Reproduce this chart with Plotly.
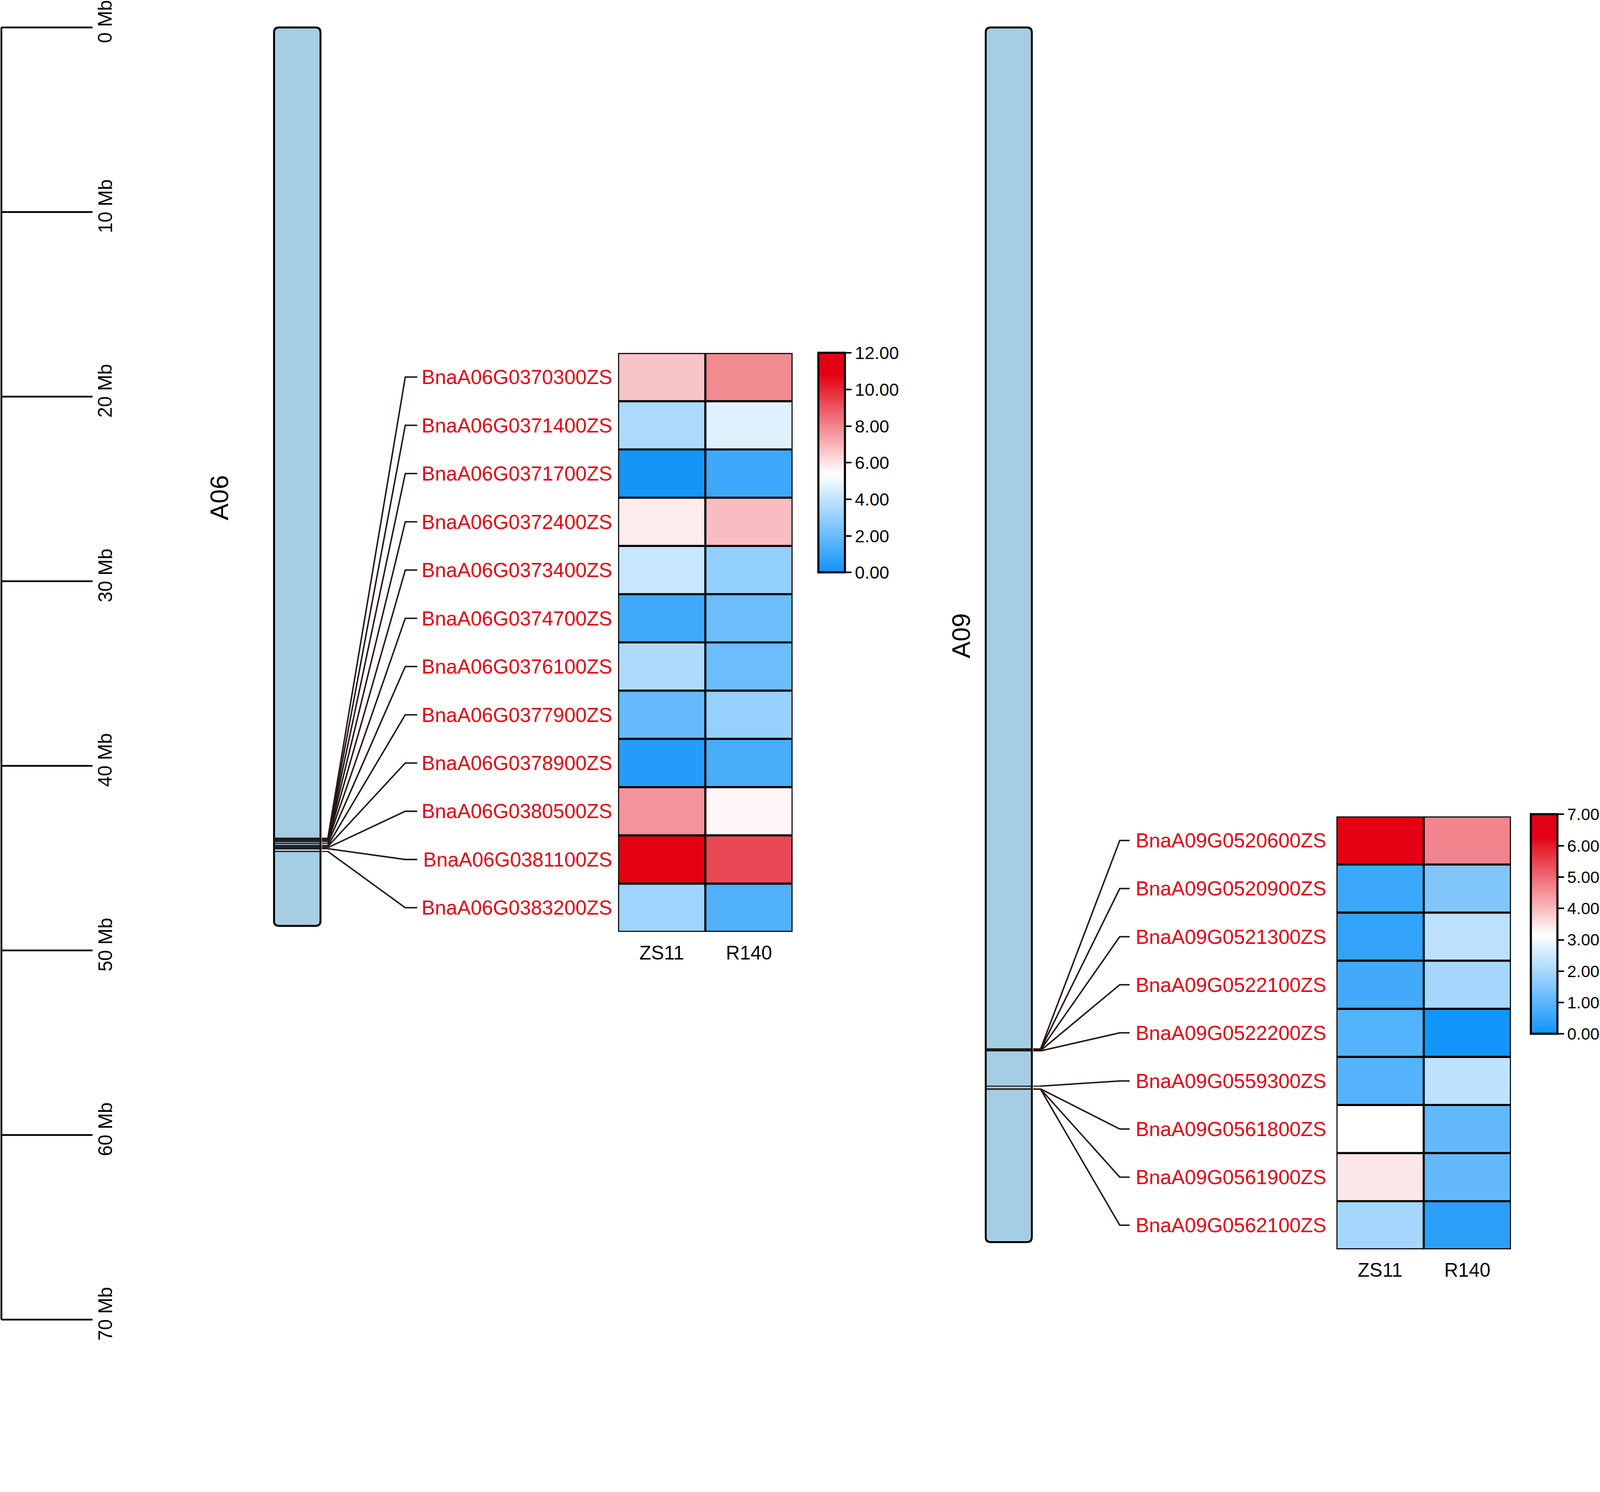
import plotly.graph_objects as go

# ---------------- data ----------------
scale_ticks_mb = [0, 10, 20, 30, 40, 50, 60, 70]
scale_tick_labels = [f"{v} Mb" for v in scale_ticks_mb]

chrom_names = ["A06", "A09"]
chrom_len_mb = [48.67, 65.80]

samples = ["ZS11", "R140"]

a06_genes = ["BnaA06G0370300ZS", "BnaA06G0371400ZS", "BnaA06G0371700ZS", "BnaA06G0372400ZS",
             "BnaA06G0373400ZS", "BnaA06G0374700ZS", "BnaA06G0376100ZS", "BnaA06G0377900ZS",
             "BnaA06G0378900ZS", "BnaA06G0380500ZS", "BnaA06G0381100ZS", "BnaA06G0383200ZS"]
a06_pos_mb = [43.92, 43.95, 43.98, 44.01, 44.04, 44.10, 44.20, 44.31, 44.37, 44.43, 44.49, 44.64]
a06_zs11 = [6.65, 3.52, 0.10, 5.80, 4.16, 1.08, 3.55, 1.90, 0.43, 7.69, 11.90, 3.25]
a06_r140 = [7.88, 4.70, 1.02, 6.82, 2.96, 2.08, 2.08, 3.03, 1.26, 5.61, 9.28, 1.45]
a06_cbar_ticks = [0, 2, 4, 6, 8, 10, 12]

a09_genes = ["BnaA09G0520600ZS", "BnaA09G0520900ZS", "BnaA09G0521300ZS", "BnaA09G0522100ZS",
             "BnaA09G0522200ZS", "BnaA09G0559300ZS", "BnaA09G0561800ZS", "BnaA09G0561900ZS",
             "BnaA09G0562100ZS"]
a09_pos_mb = [55.33, 55.36, 55.39, 55.42, 55.44, 57.35, 57.50, 57.51, 57.52]
a09_zs11 = [6.90, 0.58, 0.45, 0.66, 0.87, 0.90, 3.15, 3.46, 1.96]
a09_r140 = [4.67, 1.48, 2.27, 1.98, 0.03, 2.29, 1.10, 1.10, 0.34]
a09_cbar_ticks = [0, 1, 2, 3, 4, 5, 6, 7]

# ---------------- layout constants (target-image pixels) ----------------
W, H = 4547, 3819
K = 4096.0 / 4547.0          # CSS px per image px (viewport is rendered at ~1.11 device ratio)


def S(v):
    return v * K


def SI(v):
    return int(round(v * K))


FONT = "Liberation Sans, Arial, sans-serif"
LINE = "#231815"
RED = "#e60012"
CHROM_FILL = "#a6cee3"

MB0_PX = 78.0
PX_PER_MB = (3750.0 - 78.0) / 70.0
Y_TOP_MB = -MB0_PX / PX_PER_MB
Y_BOT_MB = (H - MB0_PX) / PX_PER_MB


def px_to_mb(py):
    return (py - MB0_PX) / PX_PER_MB


panels = [
    dict(name="A06", length=chrom_len_mb[0], genes=a06_genes, pos=a06_pos_mb,
         z=[[a, b] for a, b in zip(a06_zs11, a06_r140)], ticks=a06_cbar_ticks, zmax=12,
         chrom_x=(779, 911), stub=(915, 932), corner=1152, tick_end=1186, standoff=16,
         label_xy=(623, 1415), hm_x=(1757, 2253), hm_y=(1003, 2648),
         cb_x=2326, cb_y=(1003, 1627), cb_font=50),
    dict(name="A09", length=chrom_len_mb[1], genes=a09_genes, pos=a09_pos_mb,
         z=[[a, b] for a, b in zip(a09_zs11, a09_r140)], ticks=a09_cbar_ticks, zmax=7,
         chrom_x=(2802, 2933), stub=(2937, 2958), corner=3183, tick_end=3211, standoff=28,
         label_xy=(2732, 1807), hm_x=(3799, 4295), hm_y=(2320, 3550),
         cb_x=4350, cb_y=(2314, 2938), cb_font=47),
]

colorscale = [[0.0, "rgb(16,148,248)"], [0.45, "rgb(255,255,255)"],
              [0.9, "rgb(227,0,18)"], [1.0, "rgb(227,0,18)"]]

fig = go.Figure()
shapes = []
annotations = []

# ---------------- scale bar ----------------
sx0, sx1 = 4, 263
bx, by = [sx0, sx0], [scale_ticks_mb[0], scale_ticks_mb[-1]]
for t in scale_ticks_mb:
    bx += [None, sx0, sx1]
    by += [None, t, t]
fig.add_trace(go.Scatter(x=bx, y=by, mode="lines", line=dict(color="black", width=S(5)),
                         hoverinfo="skip", showlegend=False, xaxis="x", yaxis="y"))
for t, lab in zip(scale_ticks_mb, scale_tick_labels):
    annotations.append(dict(x=299, y=t, xref="x", yref="y", text=lab, textangle=-90,
                            showarrow=False, xanchor="center", yanchor="middle", yshift=S(17),
                            font=dict(size=S(55), color="black", family=FONT)))

layout_axes = {}
for k, p in enumerate(panels):
    ax = k + 2
    n = len(p["genes"])
    # chromosome body
    x0, x1 = p["chrom_x"]
    y0, y1 = 0.0, p["length"]
    rx = 14.0
    ry = 14.0 / PX_PER_MB
    path = (f"M {x0+rx},{y0} L {x1-rx},{y0} Q {x1},{y0} {x1},{y0+ry} "
            f"L {x1},{y1-ry} Q {x1},{y1} {x1-rx},{y1} L {x0+rx},{y1} "
            f"Q {x0},{y1} {x0},{y1-ry} L {x0},{y0+ry} Q {x0},{y0} {x0+rx},{y0} Z")
    shapes.append(dict(type="path", path=path, xref="x", yref="y", layer="below",
                       fillcolor=CHROM_FILL, line=dict(color="black", width=S(5.5))))
    # chromosome label
    lx, ly = p["label_xy"]
    annotations.append(dict(x=lx, y=px_to_mb(ly), xref="x", yref="y", text=p["name"],
                            textangle=-90, showarrow=False, xanchor="center", yanchor="middle",
                            font=dict(size=S(72), color="black", family=FONT)))
    # gene bands + connectors
    top, bot = p["hm_y"]
    rowh = (bot - top) / n
    gx, gy = [], []
    cx, cy = [], []
    for i, pos in enumerate(p["pos"]):
        gx += [x0, x1, None, p["stub"][0], p["stub"][1], None]
        gy += [pos, pos, None, pos, pos, None]
        row_mb = px_to_mb(top + (i + 0.5) * rowh)
        cx += [p["stub"][1], p["corner"], p["tick_end"], None]
        cy += [pos, row_mb, row_mb, None]
    fig.add_trace(go.Scatter(x=gx, y=gy, mode="lines", line=dict(color=LINE, width=S(3.2)),
                             hoverinfo="skip", showlegend=False, xaxis="x", yaxis="y"))
    fig.add_trace(go.Scatter(x=cx, y=cy, mode="lines", line=dict(color=LINE, width=S(4.2)),
                             hoverinfo="skip", showlegend=False, xaxis="x", yaxis="y"))

    # heatmap
    cb_top, cb_bot = p["cb_y"]
    fig.add_trace(go.Heatmap(
        z=p["z"], x=[0, 1], y=list(range(n)), zmin=0, zmax=p["zmax"],
        colorscale=colorscale, xaxis=f"x{ax}", yaxis=f"y{ax}", hoverongaps=False,
        colorbar=dict(x=p["cb_x"] / W, xanchor="left", xpad=0,
                      y=1 - (cb_top + cb_bot) / 2 / H, yanchor="middle", ypad=0,
                      len=S(cb_bot - cb_top), lenmode="pixels",
                      thickness=S(76), thicknessmode="pixels",
                      outlinewidth=S(6), outlinecolor="black",
                      ticks="outside", ticklen=S(16), tickwidth=S(4.5), tickcolor="black",
                      tickvals=p["ticks"], ticktext=[f"{v:.2f}" for v in p["ticks"]],
                      tickfont=dict(size=S(p["cb_font"]), color="black", family=FONT))))
    hx0, hx1 = p["hm_x"]
    layout_axes[f"xaxis{ax}"] = dict(domain=[hx0 / W, hx1 / W], range=[-0.5, 1.5],
                                     anchor=f"y{ax}", tickvals=[0, 1], ticktext=samples,
                                     ticks="", ticklabelstandoff=SI(22), showgrid=False,
                                     zeroline=False, showline=False, fixedrange=True,
                                     tickfont=dict(size=S(55), color="black", family=FONT))
    layout_axes[f"yaxis{ax}"] = dict(domain=[1 - bot / H, 1 - top / H], range=[n - 0.5, -0.5],
                                     anchor=f"x{ax}", tickvals=list(range(n)),
                                     ticktext=p["genes"], ticks="",
                                     ticklabelstandoff=SI(p["standoff"]),
                                     showgrid=False, zeroline=False, showline=False,
                                     fixedrange=True,
                                     tickfont=dict(size=S(57), color=RED, family=FONT))
    # cell borders
    for j in range(n + 1):
        shapes.append(dict(type="line", xref=f"x{ax}", yref=f"y{ax}", x0=-0.5, x1=1.5,
                           y0=j - 0.5, y1=j - 0.5, line=dict(color="black", width=S(6))))
    for j in range(len(samples) + 1):
        shapes.append(dict(type="line", xref=f"x{ax}", yref=f"y{ax}", x0=j - 0.5, x1=j - 0.5,
                           y0=-0.5, y1=n - 0.5, line=dict(color="black", width=S(6))))

fig.update_layout(
    width=round(W * K), height=round(H * K), margin=dict(l=0, r=0, t=0, b=0),
    paper_bgcolor="white", plot_bgcolor="rgba(0,0,0,0)",
    showlegend=False, font=dict(family=FONT),
    xaxis=dict(domain=[0, 1], range=[0, W], visible=False, fixedrange=True),
    yaxis=dict(domain=[0, 1], range=[Y_BOT_MB, Y_TOP_MB], visible=False, fixedrange=True),
    shapes=shapes, annotations=annotations,
    **layout_axes,
)

fig.write_html("out.html", config={"displayModeBar": False, "staticPlot": False},
               post_script="document.body.style.margin='0px';document.body.style.overflow='hidden';")
